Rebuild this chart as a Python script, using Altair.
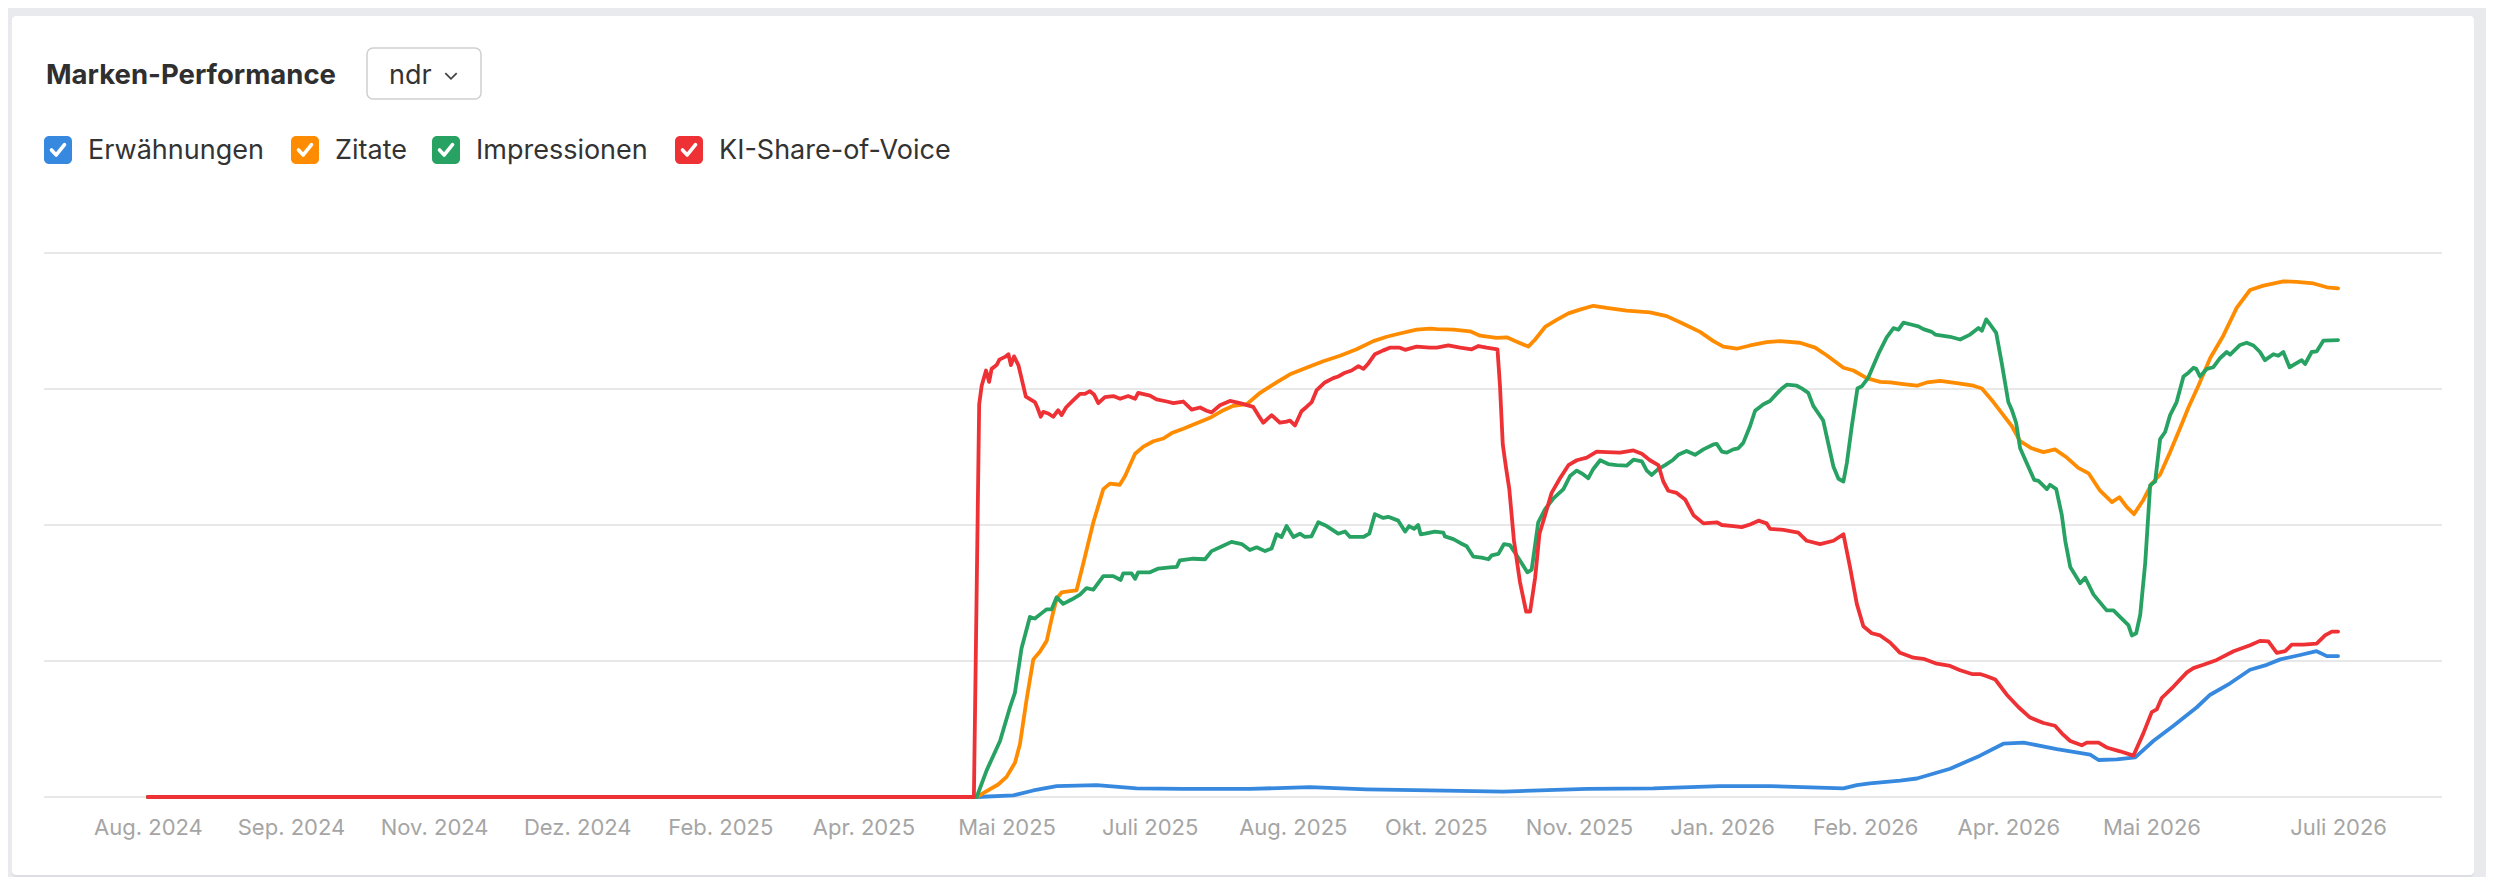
import altair as alt
import pandas as pd

# ---------------- data ----------------
SERIES = ["Erwähnungen", "Zitate", "Impressionen", "KI-Share-of-Voice"]
COLORS = ["#3689de", "#ff8c00", "#27a263", "#ee3135"]

TICK_DAYS = [0, 46, 92, 138, 184, 230, 276, 322, 368, 414, 460, 506, 552, 598, 644, 704]
TICK_LABELS = ["Aug. 2024", "Sep. 2024", "Nov. 2024", "Dez. 2024", "Feb. 2025", "Apr. 2025",
               "Mai 2025", "Juli 2025", "Aug. 2025", "Okt. 2025", "Nov. 2025", "Jan. 2026",
               "Feb. 2026", "Apr. 2026", "Mai 2026", "Juli 2026"]
GRID_VALUES = [0, 25, 50, 75, 100]

BLUE_DAY = [0, 266.4, 278.2, 284.6, 292.1, 305, 317.8, 332.8, 354.2, 373.5, 391.7, 412.1, 435.7,
            462.5, 483.9, 505.3, 521.4, 545, 549.3, 553.5, 563.2, 568.6, 579.3, 588.9, 596.4,
            602.9, 613.6, 624.3, 627, 632.9, 638.8, 644.6, 651.1, 658.6, 662.9, 669.3, 675.7,
            681.1, 685.4, 691.8, 697.1, 700.4, 704]
BLUE_VAL = [0, 0, 0.3, 1.2, 2.0, 2.2, 1.6, 1.5, 1.5, 1.8, 1.4, 1.2, 1.0,
            1.5, 1.6, 2.0, 2.0, 1.6, 2.2, 2.5, 3.0, 3.4, 5.2, 7.6, 9.8,
            10.0, 8.8, 7.8, 6.8, 6.9, 7.3, 10.3, 13.1, 16.5, 18.8, 20.9, 23.4,
            24.3, 25.3, 26.1, 26.8, 25.9, 25.9]

ORANGE_DAY = [0, 266.4, 268.5, 273.3, 276, 278.7, 280.3, 282.4, 284.6, 286.7, 288.9, 290.5, 292.1,
              293.7, 295.8, 298.5, 300.7, 303.9, 307.1, 309.2, 312.4, 314.1, 317.3, 320, 323.2,
              326.4, 329.1, 332.8, 337.1, 341.4, 345.7, 348.9, 353.2, 357.5, 362.8, 367.1, 372.4,
              377.8, 383.2, 388.5, 393.9, 398.2, 402.4, 407.8, 412.1, 414.3, 419.6, 425, 428.2,
              433.5, 436.8, 440, 443.7, 445.9, 449.1, 452.8, 456.6, 460.3, 464.6, 468.9, 475.3,
              482.8, 488.2, 493.5, 498.9, 503.2, 506.4, 510.7, 515, 520.3, 524.6, 531, 535.9,
              539.6, 545, 548.2, 552.5, 556.8, 560, 564.3, 568.6, 571.8, 576.1, 581.4, 586.8,
              589.5, 593.2, 596.4, 599.1, 601.8, 605.5, 609.3, 613, 616.8, 620.5, 623.8, 627.5,
              631.3, 633.7, 636.1, 638.4, 641.4, 644.1, 646.8, 650, 653.2, 655.9, 659.1, 662.9,
              667.1, 671.4, 675.7, 680, 686.4, 690.7, 696.1, 700.4, 704]
ORANGE_VAL = [0, 0, 0.7, 2.3, 3.7, 6.3, 9.7, 17.8, 25.3, 26.7, 28.7, 32.8, 36.5,
              37.6, 37.8, 38.0, 43.0, 50.5, 56.6, 57.6, 57.4, 59.0, 63.1, 64.4, 65.4,
              65.9, 66.9, 67.7, 68.7, 69.7, 71.1, 71.9, 72.2, 74.3, 76.2, 77.7, 78.9,
              80.1, 81.1, 82.3, 83.8, 84.6, 85.2, 85.9, 86.1, 86.0, 85.9, 85.6, 84.8,
              84.4, 84.5, 83.7, 82.8, 84.1, 86.4, 87.7, 88.9, 89.6, 90.3, 89.9, 89.4,
              89.1, 88.4, 87.0, 85.5, 83.8, 82.8, 82.4, 83.0, 83.6, 83.8, 83.5, 82.6,
              81.2, 78.9, 78.4, 77.0, 76.3, 76.2, 75.9, 75.6, 76.2, 76.5, 76.1, 75.6,
              75.1, 72.6, 70.2, 68.2, 65.4, 64.1, 63.4, 63.9, 62.4, 60.5, 59.5, 56.3,
              54.2, 55.1, 53.3, 52.0, 54.6, 57.6, 59.3, 63.4, 67.8, 71.6, 75.6, 80.7,
              84.8, 89.9, 93.2, 94.0, 94.8, 94.7, 94.4, 93.7, 93.5]

GREEN_DAY = [0, 266.4, 269.6, 273.9, 277.1, 278.7, 280.8, 283.5, 285.1, 287.3, 288.9, 290.5, 292.1,
             294.2, 296.9, 299.6, 301.7, 303.9, 307.1, 310.3, 312.7, 313.5, 316.2, 317.3, 318.3,
             322.1, 324.8, 328.5, 330.7, 331.7, 336, 339.8, 341.9, 344.6, 348.3, 351.6, 354.2,
             356.4, 359.1, 361.2, 362.8, 364.4, 366, 368.2, 370.3, 371.9, 374, 376.2, 378.9,
             382.6, 384.8, 386.4, 390.7, 392.6, 394.4, 397.1, 398.7, 401.9, 404.1, 405.4, 407,
             408.3, 409.1, 410.5, 413.7, 416.4, 416.9, 419.6, 421.8, 423.9, 426, 428.7, 430.9,
             431.9, 434.1, 435.9, 437.8, 440, 443.4, 444.8, 446.9, 449.1, 451.8, 455, 457.1,
             459.3, 461.4, 463, 464.6, 466.8, 469.4, 472.1, 475.3, 477.5, 480.2, 481.8, 483.4,
             485.5, 487.7, 490.3, 491.9, 494.6, 497.3, 500, 503.2, 504.3, 505.9, 507.5, 509.6,
             511.2, 512.8, 515, 516.6, 519.3, 521.4, 523.5, 525.2, 526.8, 530, 531.6, 533.7,
             535.3, 538.5, 540.2, 541.8, 543.4, 545, 546.1, 547.7, 549.5, 550.9, 553, 556.2,
             558.9, 561.1, 562.7, 564.3, 566.4, 569.1, 570.7, 573.4, 574.5, 579.3, 582.5, 585.7,
             588.4, 589.5, 590.9, 592.1, 594.1, 595.9, 598, 599.1, 600.5, 601.8, 603.9, 606.3,
             607.7, 610.4, 611.4, 613.4, 615.2, 616.3, 617.9, 621.1, 622.7, 625.4, 629.6, 631.8,
             633.9, 636.6, 637.7, 639.1, 640.4, 642, 643.6, 645.2, 646.8, 648.4, 650, 652.1,
             654.3, 655.9, 657.5, 658.4, 659.6, 661.8, 663.9, 666.1, 668.2, 669.3, 672.5, 674.6,
             676.8, 678.9, 680.5, 683.2, 684.8, 686.4, 688.4, 692.3, 693.4, 695.5, 697.1, 699.3, 704]
GREEN_VAL = [0, 0, 4.9, 10.3, 16.5, 19.2, 27.3, 33.1, 32.8, 33.8, 34.5, 34.5, 36.7,
             35.5, 36.3, 37.2, 38.4, 38.1, 40.6, 40.6, 39.9, 41.1, 41.1, 40.1, 41.3,
             41.3, 42.0, 42.2, 42.3, 43.5, 43.8, 43.7, 45.2, 45.9, 46.9, 46.5, 45.4,
             45.9, 45.2, 45.7, 48.3, 47.8, 49.8, 47.8, 48.4, 47.8, 47.9, 50.5, 49.8,
             48.4, 48.8, 47.8, 47.8, 48.4, 52.0, 51.3, 51.5, 50.8, 48.8, 49.8, 49.3,
             50.0, 48.3, 48.4, 48.8, 48.6, 47.9, 47.4, 46.7, 46.1, 44.2, 44.0, 43.7,
             44.4, 44.7, 46.5, 46.3, 44.4, 41.3, 41.8, 50.5, 52.9, 54.9, 56.6, 59.0,
             60.0, 59.3, 58.6, 60.3, 61.9, 61.2, 61.0, 60.9, 62.0, 61.7, 60.0, 59.2,
             60.3, 61.0, 62.0, 62.9, 63.6, 62.9, 63.9, 64.8, 64.9, 63.5, 63.3, 63.9,
             64.1, 65.1, 68.2, 71.0, 72.2, 72.8, 74.1, 75.1, 75.8, 75.6, 75.1, 74.3,
             71.9, 69.2, 64.8, 60.7, 58.5, 58.0, 61.4, 68.2, 75.1, 75.5, 77.1, 81.4,
             84.5, 86.2, 85.9, 87.2, 86.9, 86.5, 86.0, 85.5, 85.0, 84.6, 84.1, 85.0,
             86.2, 85.7, 87.8, 86.9, 85.3, 79.7, 72.6, 71.2, 68.8, 64.1, 61.4, 58.3,
             58.1, 56.6, 57.4, 56.6, 51.8, 47.1, 42.3, 39.3, 40.3, 37.2, 34.3, 34.3,
             33.1, 31.6, 29.7, 30.1, 33.5, 43.0, 57.3, 58.0, 65.8, 67.1, 70.2, 72.6,
             77.3, 78.0, 78.9, 78.7, 77.3, 78.7, 79.0, 80.7, 81.8, 81.3, 83.1, 83.5,
             83.0, 81.8, 80.3, 81.4, 81.1, 81.8, 79.0, 80.3, 79.6, 81.8, 81.9, 83.9, 84.0]

RED_DAY = [0, 265.5, 267.2, 268, 269.4, 270.4, 271.2, 272.8, 273.7, 275.5, 276.6, 277.4, 278.4,
           279.8, 280.8, 282.2, 285.1, 285.9, 287, 287.8, 289.4, 291, 292.6, 293.7, 295.1,
           297.4, 299.6, 301.2, 302.8, 304.1, 305.5, 307.6, 310.3, 312.5, 315.1, 317.3, 318.3,
           322.1, 324.2, 327.5, 329.6, 332.8, 335.5, 338.2, 340.3, 341.9, 344.6, 347.8, 351,
           355.3, 356.9, 358.5, 361.2, 363.9, 366, 367.1, 368.7, 370.8, 372.4, 374.1, 375.7,
           378.3, 381, 382.6, 384.8, 386.9, 389.1, 390.7, 392.3, 394.4, 397.1, 399.2, 402.4,
           404.1, 407.8, 412.1, 414.3, 418, 421.8, 425.5, 427.7, 430.3, 433.8, 434.6, 435.5,
           436.5, 437.6, 439.1, 441, 443, 444.3, 445.9, 447.3, 449.1, 451.2, 453.9, 456.6,
           459.3, 462.5, 465.7, 468.9, 473.2, 477.5, 480.2, 482.8, 485.5, 487.1, 488.7, 491.4,
           494.1, 496.8, 500, 504.3, 505.9, 509.6, 512.3, 515, 517.7, 520.3, 521.4, 525.7,
           530.5, 533.2, 537.5, 541.8, 545, 547.1, 549.3, 551.4, 554.1, 556.8, 560, 563.2,
           567.5, 570.7, 575, 579.3, 582.5, 586.3, 588.9, 591.1, 593.8, 597.5, 601.3, 605,
           609.3, 613, 615.2, 617.9, 621.6, 623.2, 627, 629.6, 633.9, 638.2, 641.4, 644.1,
           645.7, 647.3, 651.1, 655.4, 657.5, 660.7, 665, 670.4, 675.7, 678.9, 681.6, 684.3,
           687, 689.1, 692.9, 697.1, 699.8, 702, 704]
RED_VAL = [0, 0, 72.2, 75.6, 78.4, 76.3, 78.7, 79.4, 80.4, 80.9, 81.4, 79.4, 81.0,
           79.4, 77.0, 73.6, 72.6, 71.6, 69.9, 70.8, 70.5, 69.9, 71.1, 70.2, 71.6,
           72.9, 74.1, 74.1, 74.6, 74.0, 72.4, 73.5, 73.7, 73.2, 73.7, 73.2, 74.3,
           73.8, 73.1, 72.7, 72.4, 72.7, 71.2, 71.6, 71.0, 70.7, 72.0, 72.8, 72.4,
           71.7, 70.2, 68.8, 70.2, 68.8, 69.0, 69.2, 68.3, 70.9, 71.7, 72.6, 74.8,
           76.2, 77.0, 77.3, 78.0, 78.4, 79.2, 78.7, 79.7, 81.4, 82.1, 82.6, 82.6,
           82.2, 82.8, 82.6, 82.6, 83.0, 82.6, 82.3, 82.9, 82.6, 82.3, 75.6, 64.8,
           60.7, 56.6, 47.1, 39.6, 34.1, 34.1, 40.3, 48.4, 51.8, 55.9, 58.6, 61.0,
           61.9, 62.4, 63.5, 63.4, 63.3, 63.7, 63.1, 61.9, 61.0, 58.0, 56.3, 55.9,
           54.7, 51.8, 50.3, 50.5, 50.0, 49.8, 49.6, 50.1, 50.8, 50.3, 49.3, 49.1,
           48.6, 47.1, 46.5, 47.1, 48.3, 42.3, 35.5, 31.4, 30.1, 29.7, 28.4, 26.5,
           25.6, 25.4, 24.5, 24.1, 23.3, 22.6, 22.6, 22.2, 21.6, 18.8, 16.5, 14.6,
           13.6, 13.1, 11.7, 10.3, 9.5, 10.0, 10.0, 9.1, 8.4, 7.6, 11.7, 15.6,
           16.1, 18.2, 20.3, 22.9, 23.7, 24.3, 25.2, 26.8, 27.9, 28.7, 28.6, 26.5,
           26.8, 28.0, 28.0, 28.2, 29.7, 30.4, 30.4]

SERIES_DATA = [(BLUE_DAY, BLUE_VAL), (ORANGE_DAY, ORANGE_VAL), (GREEN_DAY, GREEN_VAL), (RED_DAY, RED_VAL)]

TITLE = "Marken-Performance"
DROPDOWN = "ndr"

# ---------------- layout ----------------
W, H = 2398, 544
PAD = {"left": 36, "top": 245, "right": 44, "bottom": 80}
FONT = "Inter"
LEGEND_BOX_X = [0, 247, 388, 631]

xscale = alt.Scale(domain=[-33.4, 737.4], nice=False, zero=False)
yscale = alt.Scale(domain=[0, 100], nice=False, zero=True)

days_js = "[" + ",".join(str(d) for d in TICK_DAYS) + "]"
labels_js = "[" + ",".join("'" + l + "'" for l in TICK_LABELS) + "]"
xaxis = alt.Axis(values=TICK_DAYS, labelExpr=f"{labels_js}[indexof({days_js}, datum.value)]",
                 grid=False, domain=False, ticks=False, tickSize=0, labelPadding=20,
                 labelFontSize=22, labelColor="#a5a5a5", labelFont=FONT, labelOverlap=False,
                 labelFlush=False, title=None, zindex=1)

one = pd.DataFrame({"k": [0]})

layers = []
# card shadow + card
layers.append(alt.Chart(one).mark_rect(color="#dcdee2", cornerRadius=4).encode(
    x=alt.value(-32), x2=alt.value(2430), y=alt.value(-236), y2=alt.value(624)))
layers.append(alt.Chart(one).mark_rect(color="white", cornerRadius=4).encode(
    x=alt.value(-32), x2=alt.value(2430), y=alt.value(-237), y2=alt.value(622)))

# gridlines through the y scale
layers.append(alt.Chart(pd.DataFrame({"g": GRID_VALUES})).mark_rule(color="#e8e8e8", strokeWidth=2).encode(
    y=alt.Y("g:Q", scale=yscale, axis=None), x=alt.value(0), x2=alt.value(W)))

# series lines
for name, col, (dd, vv) in zip(SERIES, COLORS, SERIES_DATA):
    df = pd.DataFrame({"day": dd, "value": vv, "series": name})
    layers.append(alt.Chart(df).mark_line(color=col, strokeWidth=3.8, strokeJoin="round",
                                          strokeCap="round").encode(
        x=alt.X("day:Q", scale=xscale, axis=xaxis),
        y=alt.Y("value:Q", scale=yscale, axis=None)))

# header: title + dropdown
layers.append(alt.Chart(one).mark_text(text=TITLE, font=FONT, fontSize=27.5, fontWeight=700,
                                       color="#2f2f2f", align="left", baseline="alphabetic").encode(
    x=alt.value(2), y=alt.value(-169)))
layers.append(alt.Chart(one).mark_rect(fill="white", stroke="#cfcfcf", strokeWidth=1.5, cornerRadius=6).encode(
    x=alt.value(323), x2=alt.value(437), y=alt.value(-205), y2=alt.value(-154)))
layers.append(alt.Chart(one).mark_text(text=DROPDOWN, font=FONT, fontSize=27, color="#333333",
                                       align="left", baseline="alphabetic").encode(
    x=alt.value(345), y=alt.value(-169)))
layers.append(alt.Chart(one).mark_point(shape="M-1,-0.5L0,0.5L1,-0.5", filled=False, stroke="#444444",
                                        strokeWidth=1.8, size=130, opacity=1).encode(
    x=alt.value(407), y=alt.value(-177)))

# checkbox legend
for name, col, bx in zip(SERIES, COLORS, LEGEND_BOX_X):
    layers.append(alt.Chart(one).mark_rect(color=col, cornerRadius=5).encode(
        x=alt.value(bx), x2=alt.value(bx + 28), y=alt.value(-117), y2=alt.value(-89)))
    layers.append(alt.Chart(one).mark_point(shape="M-0.55,0L-0.15,0.42L0.55,-0.45", filled=False,
                                            stroke="white", strokeWidth=3.6, size=560, opacity=1,
                                            strokeCap="round", strokeJoin="round").encode(
        x=alt.value(bx + 14), y=alt.value(-103)))
    layers.append(alt.Chart(one).mark_text(text=name, font=FONT, fontSize=27, color="#333333",
                                           align="left", baseline="alphabetic").encode(
        x=alt.value(bx + 44), y=alt.value(-94)))

chart = alt.layer(*layers).properties(
    width=W, height=H, padding=PAD,
    autosize=alt.AutoSizeParams(type="none"),
).configure_view(stroke=None).configure(background="#e9eaed")

chart.save("out.html", embed_options={"renderer": "svg", "actions": False})
